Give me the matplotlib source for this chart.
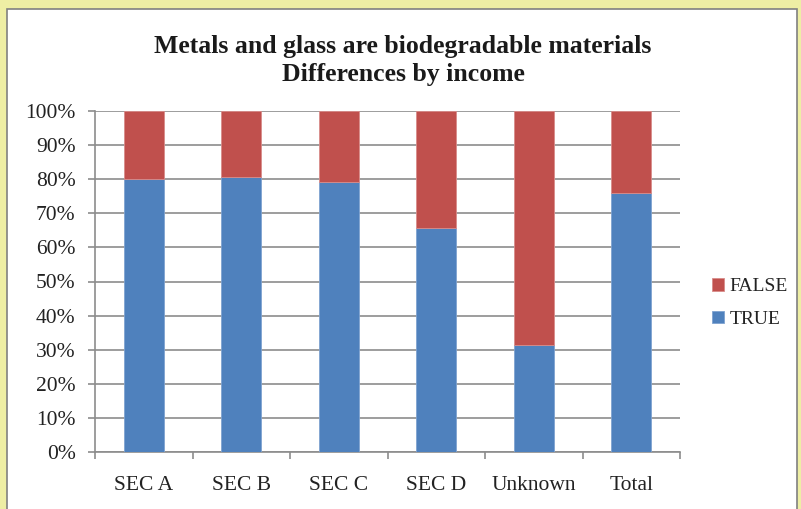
import numpy as np
import matplotlib.pyplot as plt
from matplotlib.patches import Rectangle

# share of answers per income group
groups = ["SEC A", "SEC B", "SEC C", "SEC D", "Unknown", "Total"]
true_pct = [80.0, 80.6, 79.3, 65.6, 31.3, 75.9]
false_pct = [100 - v for v in true_pct]

blue = "#4F81BD"
red = "#C0504D"
grid_gray = "#8C8C8C"

plt.rcParams['font.family'] = ['Liberation Serif', 'DejaVu Serif']

fig = plt.figure(figsize=(8.01, 5.09), dpi=100)
fig.patch.set_facecolor("#EEEEA4")

# white chart area with a thin gray frame
frame = Rectangle((7 / 801, -0.01), 790 / 801, 1 - 9 / 509 + 0.01,
                  transform=fig.transFigure, facecolor="white",
                  edgecolor="#808080", linewidth=1.2, zorder=-5)
fig.patches.append(frame)

ax = fig.add_axes([95 / 801, 57 / 509, 585 / 801, 341 / 509])
ax.set_facecolor("none")

x = np.arange(len(groups))
ax.bar(x, true_pct, width=0.41, color=blue, edgecolor="#7FA3D0",
       linewidth=0.6, label="TRUE", zorder=3)
ax.bar(x, false_pct, width=0.41, bottom=true_pct, color=red,
       edgecolor="#D98C8A", linewidth=0.6, label="FALSE", zorder=3)

ax.set_xlim(-0.5, len(groups) - 0.5)
ax.set_ylim(0, 100)
ax.set_yticks(np.arange(0, 101, 10))
ax.set_yticklabels([f"{v}%" for v in range(0, 101, 10)], fontsize=15.5,
                   color="#222222")
ax.yaxis.grid(True, color=grid_gray, linewidth=1.2, zorder=1)
ax.set_axisbelow(True)
ax.tick_params(axis="y", length=5, width=1.2, color=grid_gray, pad=9)

# category labels in the middle, tick marks on the boundaries
ax.set_xticks(np.arange(-0.5, len(groups), 1.0))
ax.set_xticklabels([])
ax.set_xticks(x, minor=True)
ax.set_xticklabels(groups, minor=True, fontsize=15.5, color="#222222")
ax.tick_params(axis="x", which="major", length=5, width=1.2, color=grid_gray)
ax.tick_params(axis="x", which="minor", length=0, pad=17)

for side in ["top", "right"]:
    ax.spines[side].set_visible(False)
for side in ["left", "bottom"]:
    ax.spines[side].set_color(grid_gray)
    ax.spines[side].set_linewidth(1.2)

fig.text(403 / 801, 1 - 46 / 509, "Metals and glass are biodegradable materials",
         ha="center", va="center", fontsize=18.5, fontweight="bold", color="#1a1a1a")
fig.text(403 / 801, 1 - 74 / 509, "Differences by income",
         ha="center", va="center", fontsize=18.5, fontweight="bold", color="#1a1a1a")

handles, labels = ax.get_legend_handles_labels()
fig.legend(handles[::-1], labels[::-1], loc="center left",
           bbox_to_anchor=(694 / 801, 1 - 303 / 509), frameon=False,
           fontsize=14, handlelength=0.62, handleheight=0.62,
           handletextpad=0.3, labelspacing=0.8)
for txt in fig.legends[0].get_texts():
    txt.set_color("#222222")

fig.savefig("out.png", dpi=100, facecolor=fig.get_facecolor())
